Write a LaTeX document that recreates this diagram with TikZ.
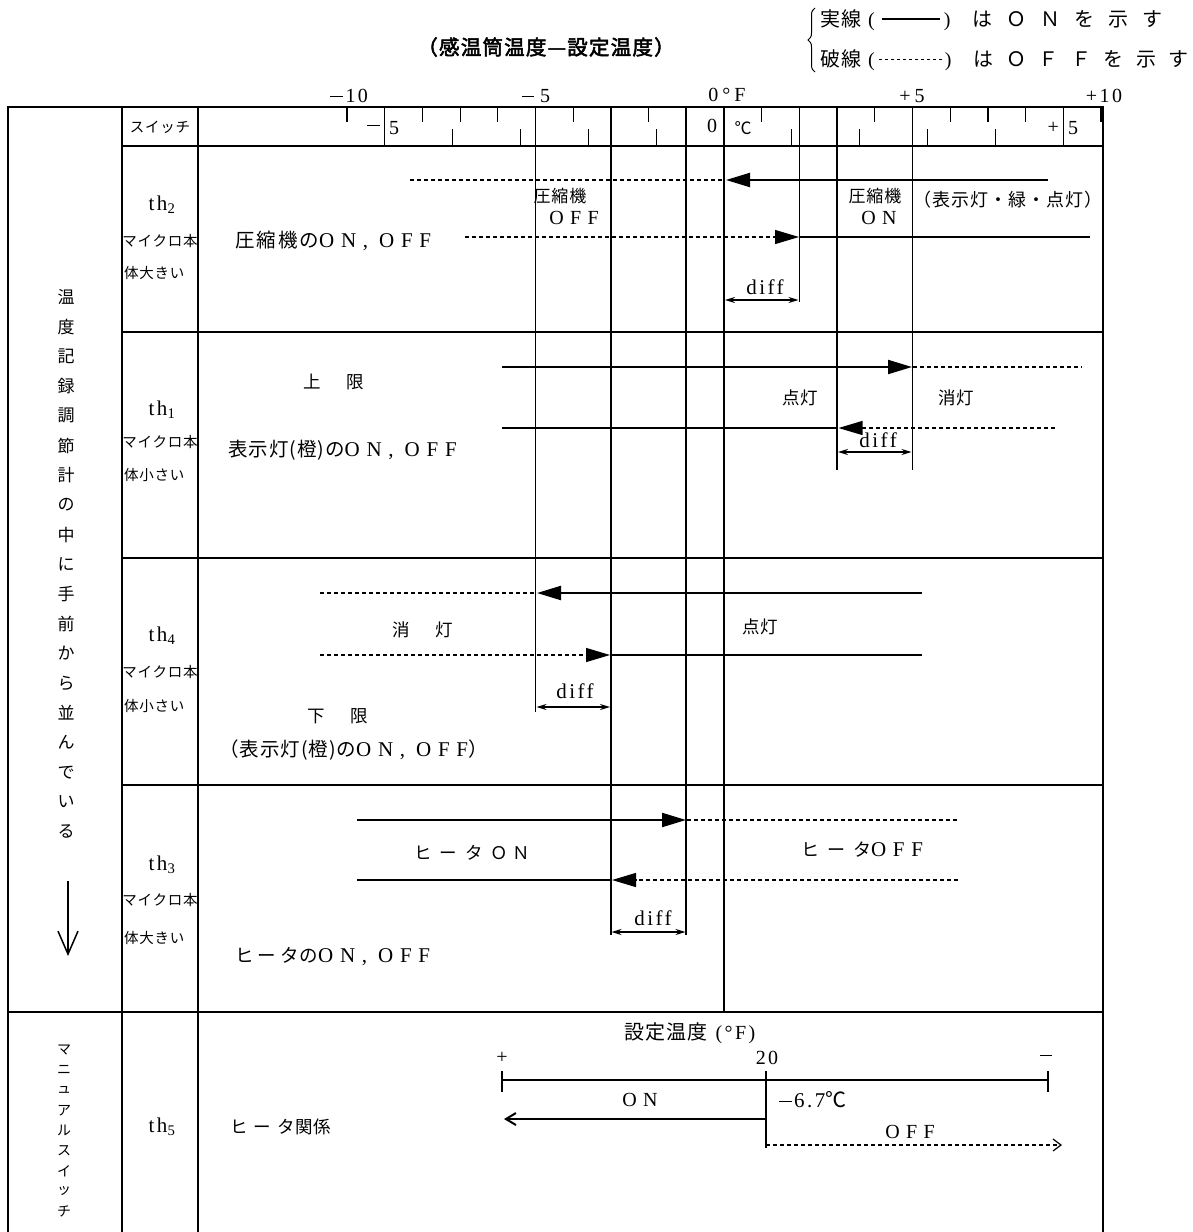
\documentclass[tikz,border=0pt]{standalone}
\usepackage{fontspec}
\setmainfont{Liberation Serif}[LetterSpace=12]
\newfontfamily\wide{Liberation Serif}[LetterSpace=32]
\newfontfamily\cjk{Noto Sans CJK JP}[LetterSpace=5]
\newfontfamily\cjkb{Noto Sans CJK JP}[FakeBold=2.5,LetterSpace=6]
\usetikzlibrary{arrows.meta,decorations.pathreplacing}
\newcommand{\jp}[1]{{\cjk #1}}
\newcommand{\fs}[1]{\fontsize{#1}{#1}\selectfont}
\newcommand{\mn}{\rule[0.27em]{0.62em}{0.07em}}
\newcommand{\onoff}{{\wide ON,\hspace{11pt}OFF}}
\tikzset{
  frame/.style={line width=1.9pt},
  vline/.style={line width=1.8pt},
  tickline/.style={line width=1.2pt},
  onl/.style={line width=2.1pt},
  offl/.style={line width=1.2pt, dash pattern=on 4pt off 3pt},
  bigtip/.style={-{Triangle[length=24pt,width=14pt]}},
  dimline/.style={line width=1.5pt, {Stealth[length=10pt,width=6pt]}-{Stealth[length=10pt,width=6pt]}},
  lbl/.style={font=\fs{21}, inner sep=0pt},
  scl/.style={font=\fs{20}, inner sep=0pt},
  small/.style={font=\fs{14.5}\cjk, inner sep=0pt},
  jlbl/.style={font=\fs{17.5}\cjk, inner sep=0pt},
}
\begin{document}
\begin{tikzpicture}[x=1pt,y=-1pt]
\useasboundingbox (0,0) rectangle (1192,1232);
% ---------- title and legend
\node[inner sep=0pt, font=\fs{20.5}\cjkb] (title) at (546,47) {（感温筒温度—設定温度）};
\draw[line width=1pt, decorate, decoration={brace, amplitude=7pt}] (815,72) -- (815,8);
\node[anchor=west, inner sep=0pt, font=\fs{20}] (leg1) at (820,20)
  {\jp{実線}\hspace{7pt}(\hspace{7pt}\rule[0.3em]{58pt}{2pt}\hspace{4pt})\hspace{22pt}\jp{は\hspace{14pt}Ｏ\hspace{14pt}Ｎ\hspace{14pt}を\hspace{14pt}示\hspace{14pt}す}};
\node[anchor=west, inner sep=0pt, font=\fs{20}] (leg2) at (820,60)
  {\jp{破線}\hspace{7pt}(\hspace{3pt}\xleaders\hbox to 6pt{\hss\rule[0.3em]{3pt}{0.9pt}\hss}\hskip 66pt\hspace{1pt})\hspace{22pt}\jp{は\hspace{12.5pt}Ｏ\hspace{12.5pt}Ｆ\hspace{12.5pt}Ｆ\hspace{12.5pt}を\hspace{12.5pt}示\hspace{12.5pt}す}};
% ---------- frame
\draw[frame] (8,1232) -- (8,107) -- (1103,107) -- (1103,1232);
\draw[frame] (122,107) -- (122,1232);
\draw[frame] (198,107) -- (198,1232);
\draw[frame] (122,146) -- (1103,146);
\draw[frame] (122,332) -- (1103,332);
\draw[frame] (122,558) -- (1103,558);
\draw[frame] (122,785) -- (1103,785);
\draw[frame] (8,1012) -- (1103,1012);
% ---------- scale
\foreach \f in {-10,...,10} \draw[tickline] ({724+37.7*\f},107) -- ++(0,15);
\foreach \c in {-5,...,5} \draw[tickline] ({724+67.86*\c},146) -- ++(0,-17);
\draw[tickline] (384.7,107) -- (384.7,146);
\draw[tickline] (1063.3,107) -- (1063.3,146);
\node[scl] (sm10) at (349,96) {\mn\hspace{3pt}10};
\node[scl] (sm5) at (536,96) {\mn\hspace{6pt}5};
\node[scl] (s0) at (727,95) {0\hspace{4pt}°\hspace{4pt}F};
\node[scl] (sp5) at (912,96) {+\hspace{4pt}5};
\node[scl] (sp10) at (1104,96) {+10};
\node[small] (sw) at (160,127) {スイッチ};
\node[scl, anchor=east] (cm) at (380,128) {\mn};
\node[scl, anchor=west] (cm5) at (389,128) {5};
\node[scl] (c0) at (712,126) {0};
\node[scl, font=\fs{17}\cjk] (cc) at (743,128) {℃};
\node[scl, anchor=east] (cp) at (1059,128) {+};
\node[scl, anchor=west] (cp5) at (1068,128) {5};
% ---------- long vertical lines
\draw[vline] (535.5,107) -- (535.5,712);
\draw[vline] (610.9,107) -- (610.9,935);
\draw[vline] (686.3,107) -- (686.3,935);
\draw[vline] (724,107) -- (724,1012);
\draw[vline] (799.4,107) -- (799.4,302);
\draw[vline] (837.1,107) -- (837.1,470);
\draw[vline] (912.5,107) -- (912.5,470);
% ---------- left column text
\foreach \ch [count=\i from 0] in {温,度,記,録,調,節,計,の,中,に,手,前,か,ら,並,ん,で,い,る}
  \node[font=\fs{17}\cjk, inner sep=0pt] at (66,{297+29.7*\i}) {\ch};
\draw[line width=1.5pt, -{Straight Barb[length=23pt,width=20pt]}] (68,881) -- (68,956);
\foreach \ch [count=\i from 0] in {マ,ニ,ュ,ア,ル,ス,イ,ッ,チ}
  \node[font=\fs{14}\cjk, inner sep=0pt] at (64,{1050+20.2*\i}) {\ch};
% ---------- th2
\node[lbl] (t2) at (162,205) {th\textsubscript{2}};
\node[small] (t2a) at (160,241) {マイクロ本};
\node[small, anchor=west] (t2b) at (124,273) {体大きい};
\node[lbl, anchor=west] (t2c) at (235,241) {{\fs{19.5}\jp{圧\hspace{2pt}縮\hspace{2pt}機\hspace{2pt}の}}\onoff};
\draw[offl] (410,180) -- (724,180);
\draw[onl, bigtip] (1048,180) -- (726,180);
\draw[offl, bigtip] (465,237) -- (799,237);
\draw[onl] (799,237) -- (1090,237);
\node[lbl, font=\fs{17}\cjk] (k1) at (560,196) {圧縮機};
\node[lbl, font=\fs{20}\wide] (k1b) at (574,218) {OFF};
\node[lbl, font=\fs{17}\cjk] (k2) at (875,196) {圧縮機};
\node[lbl, font=\fs{20}\wide] (k2b) at (879,218) {ON};
\node[lbl, font=\fs{18}\cjk] (k3) at (1008,200) {（表示灯・緑・点灯）};
\node[lbl] (d2) at (765,287) {diff};
\draw[dimline] (725,300) -- (798.5,300);
% ---------- th1
\node[lbl] (t1) at (162,410) {th\textsubscript{1}};
\node[small] (t1a) at (160,442) {マイクロ本};
\node[small, anchor=west] (t1b) at (124,475) {体小さい};
\node[jlbl] (u1) at (334,382) {上\hspace{26pt}限};
\node[lbl, anchor=west] (u2) at (228,450) {{\fs{19.5}\jp{表示灯(橙)の}}\onoff};
\draw[onl, bigtip] (502,367) -- (912,367);
\draw[offl] (913,367) -- (1082,367);
\draw[onl] (502,428) -- (837,428);
\draw[offl, bigtip] (1055,428) -- (838.5,428);
\node[jlbl] (u3) at (800,398) {点灯};
\node[jlbl] (u4) at (956,398) {消灯};
\node[lbl] (d1) at (878,440) {diff};
\draw[dimline] (838,452) -- (911.5,452);
% ---------- th4
\node[lbl] (t4) at (162,636) {th\textsubscript{4}};
\node[small] (t4a) at (160,672) {マイクロ本};
\node[small, anchor=west] (t4b) at (124,706) {体小さい};
\draw[offl] (320,593) -- (535,593);
\draw[onl, bigtip] (922,593) -- (537,593);
\draw[offl, bigtip] (320,655) -- (610,655);
\draw[onl] (611,655) -- (922,655);
\node[jlbl] (l1) at (423,630) {消\hspace{26pt}灯};
\node[jlbl] (l2) at (760,627) {点灯};
\node[lbl] (d4) at (575,691) {diff};
\draw[dimline] (536.5,707) -- (610,707);
\node[jlbl] (l3) at (338,716) {下\hspace{26pt}限};
\node[lbl, anchor=west] (l4) at (219,750) {{\fs{19.5}\jp{（表示灯(橙)の}}\onoff{\fs{19.5}\jp{）}}};
% ---------- th3
\node[lbl] (t3) at (162,865) {th\textsubscript{3}};
\node[small] (t3a) at (160,900) {マイクロ本};
\node[small, anchor=west] (t3b) at (124,938) {体大きい};
\draw[onl, bigtip] (357,820) -- (686,820);
\draw[offl] (687,820) -- (958,820);
\draw[onl] (357,880) -- (611,880);
\draw[offl, bigtip] (958,880) -- (612,880);
\node[jlbl] (h1) at (472,853) {ヒ\hspace{8pt}ー\hspace{8pt}タ\hspace{8pt}Ｏ\hspace{4pt}Ｎ};
\node[lbl] (h2) at (862,850) {{\fs{18}\jp{ヒ\hspace{8pt}ー\hspace{8pt}タ}}{\wide OFF}};
\node[lbl] (d3) at (653,918) {diff};
\draw[dimline] (611.5,932) -- (685.5,932);
\node[lbl, anchor=west] (h3) at (235,957) {{\fs{18.5}\jp{ヒ\hspace{4pt}ー\hspace{4pt}タ\hspace{1pt}の}}\onoff};
% ---------- th5
\node[lbl] (t5) at (162,1127) {th\textsubscript{5}};
\node[jlbl, anchor=west] (m1) at (230,1127) {ヒ\hspace{6pt}ー\hspace{6pt}タ関係};
\node[scl] (m2) at (690,1033) {\jp{設\hspace{1pt}定\hspace{1pt}温\hspace{1pt}度}\hspace{8pt}(°F)};
\node[scl] (mp) at (502,1058) {+};
\node[scl] (m20) at (767,1058) {20};
\node[scl] (mm) at (1046,1058) {\mn};
\draw[line width=1.6pt] (502,1080) -- (1048,1080);
\draw[tickline] (502,1071) -- (502,1092);
\draw[tickline] (1048,1071) -- (1048,1092);
\draw[tickline] (766,1071) -- (766,1148);
\node[lbl, font=\fs{20}\wide] (mon) at (640,1100) {ON};
\node[lbl, anchor=west] (m67) at (779,1100) {\mn\hspace{2pt}6.7\jp{℃}};
\node[lbl, font=\fs{20}\wide] (moff) at (910,1132) {OFF};
\draw[onl, -{Straight Barb[length=10pt,width=12pt,line width=2pt]}] (766,1119) -- (504,1119);
\draw[offl, -{Straight Barb[length=8pt,width=12pt]}] (766,1145) -- (1062,1145);
\end{tikzpicture}
\end{document}
